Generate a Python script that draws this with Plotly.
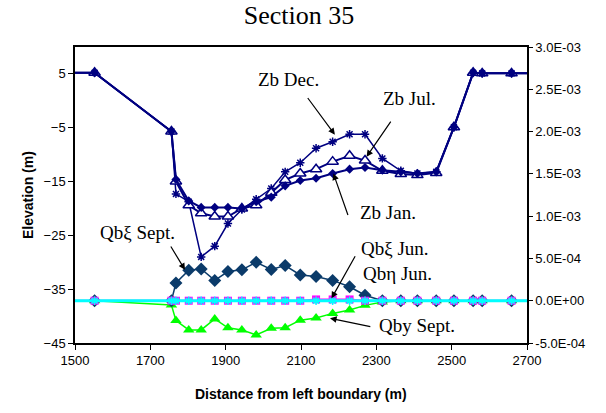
import plotly.graph_objects as go

# ---------------- data ----------------
# node positions (m); first/last entries are off-chart continuations of the lines
distance = [1400, 1552, 1756, 1768, 1802, 1835, 1871, 1906, 1943, 1981, 2021, 2058, 2098,
            2140, 2184, 2229, 2270, 2316, 2365, 2409, 2459, 2506, 2557, 2581, 2659, 2800]

zb_jan = [5.2, 5.2, -5.7, -14.6, -18.6, -19.8, -19.8, -19.8, -20.0, -18.75, -17.9, -15.8, -14.8,
          -14.4, -13.5, -12.7, -12.4, -12.9, -13.2, -13.5, -13.2, -4.9, 5.2, 5.1, 5.1, 5.1]
zb_jul = [5.2, 5.2, -5.7, -15.0, -19.4, -20.9, -21.5, -21.5, -20.0, -19.4, -17.1, -14.7, -13.5,
          -12.7, -11.3, -10.2, -11.1, -13.0, -13.6, -13.8, -13.4, -4.9, 5.2, 5.1, 5.1, 5.1]
zb_dec = [5.2, 5.2, -5.7, -17.3, -18.75, -29.0, -27.0, -22.8, -20.2, -18.3, -16.3, -13.2, -11.5,
          -8.8, -7.6, -6.2, -6.2, -10.7, -13.0, -13.5, -13.2, -4.9, 5.2, 5.1, 5.1, 5.1]

qbxi_sept = [0, 0, 0, 2.1e-4, 3.6e-4, 3.75e-4, 2.4e-4, 3.45e-4, 3.65e-4, 4.55e-4, 3.7e-4, 4.15e-4, 3.05e-4,
             2.85e-4, 2.4e-4, 1.65e-4, 6.5e-5, 0, 0, 0, 0, 0, 0, 0, 0, 0]
qby_sept = [0, 0, -5.0e-5, -2.35e-4, -3.45e-4, -3.45e-4, -2.15e-4, -3.2e-4, -3.45e-4, -4.05e-4, -3.25e-4,
            -3.2e-4, -2.3e-4, -2.05e-4, -1.5e-4, -1.1e-4, -5.5e-5, -1.5e-5, 0, 0, 0, 0, 0, 0, 0, 0]
qbxi_jun = [0, 0, 0, 0, 0, 0, 0, 0, 0, 0, 0, 0, 0,
            1.5e-5, 1.5e-5, 1.5e-5, 0, 0, 0, 0, 0, 0, 0, 0, 0, 0]
qbeta_jun = [0] * len(distance)

x_ticks = [1500, 1700, 1900, 2100, 2300, 2500, 2700]
y_ticks = [-45, -35, -25, -15, -5, 5]
y2_ticks = [-5e-4, 0, 5e-4, 1e-3, 1.5e-3, 2e-3, 2.5e-3, 3e-3]
y2_labels = ["-5.0E-04", "0.0E+00", "5.0E-04", "1.0E-03", "1.5E-03", "2.0E-03", "2.5E-03", "3.0E-03"]

NAVY = "#000080"
SERIF = "Times New Roman, Liberation Serif, serif"
SANS = "Arial, Liberation Sans, sans-serif"

fig = go.Figure()

# ---- elevation series (left axis) ----
fig.add_trace(go.Scatter(x=distance, y=zb_dec, mode="lines+markers", name="Zb Dec.",
                         line=dict(color=NAVY, width=1.5),
                         marker=dict(symbol="asterisk-open", size=7, color=NAVY,
                                     line=dict(color=NAVY, width=1.5))))
fig.add_trace(go.Scatter(x=distance, y=zb_jul, mode="lines+markers", name="Zb Jul.",
                         line=dict(color=NAVY, width=2),
                         marker=dict(symbol="triangle-up", size=10, color="white",
                                     line=dict(color=NAVY, width=1.5))))
fig.add_trace(go.Scatter(x=distance, y=zb_jan, mode="lines+markers", name="Zb Jan.",
                         line=dict(color=NAVY, width=2),
                         marker=dict(symbol="diamond", size=7, color=NAVY)))

# ---- transport series (right axis) ----
fig.add_trace(go.Scatter(x=distance, y=qby_sept, mode="lines+markers", name="Qby Sept.", yaxis="y2",
                         line=dict(color="#00FF00", width=1.5),
                         marker=dict(symbol="triangle-up", size=10, color="#00FF00")))
fig.add_trace(go.Scatter(x=distance, y=qbxi_sept, mode="lines+markers", name="Qbξ Sept.", yaxis="y2",
                         line=dict(color="#0B3B6A", width=1.5),
                         marker=dict(symbol="diamond", size=10, color="#0B3B6A")))
fig.add_trace(go.Scatter(x=distance, y=qbxi_jun, mode="lines+markers", name="Qbξ Jun.", yaxis="y2",
                         line=dict(color="#FF00FF", width=2),
                         marker=dict(symbol="square", size=8, color="#FF00FF")))
fig.add_trace(go.Scatter(x=distance, y=qbeta_jun, mode="lines+markers", name="Qbη Jun.", yaxis="y2",
                         line=dict(color="#00FFFF", width=3),
                         marker=dict(symbol="asterisk-open", size=7, color="#00FFFF",
                                     line=dict(color="#00FFFF", width=1.5))))

# ---- labels with arrows ----
labels = [
    ("Zb Dec.", 2068, 3.9, 2115, 0.8, 2190, -6.3),
    ("Zb Jul.", 2389, 0.5, 2341, -3.6, 2274, -10.4),
    ("Zb Jan.", 2331, -20.8, 2226, -21.5, 2186, -13.5),
    ("Qbξ Sept.", 1665, -24.4, 1752, -26.8, 1792, -31.4),
    ("Qbξ Jun.", 2350, -27.4, 2246, -28.6, 2181, -36.7),
    ("Qby Sept.", 2408, -41.7, 2288, -42.0, 2177, -40.4),
]
annotations = []
for text, tx, ty, ax0, ay0, hx, hy in labels:
    annotations.append(dict(x=tx, y=ty, xref="x", yref="y", text=text, showarrow=False,
                            font=dict(family=SERIF, size=19, color="black")))
    annotations.append(dict(x=hx, y=hy, xref="x", yref="y", ax=ax0, ay=ay0, axref="x", ayref="y",
                            text="", showarrow=True, arrowhead=2, arrowsize=1.1, arrowwidth=1.2,
                            arrowcolor="black"))
annotations.append(dict(x=2355, y=-32.0, xref="x", yref="y", text="Qbη Jun.", showarrow=False,
                        font=dict(family=SERIF, size=19, color="black")))

# axis titles
annotations.append(dict(x=-0.126, y=0.5, xref="paper", yref="paper", text="<b>Elevation (m)</b>",
                        textangle=-90, showarrow=False, font=dict(family=SANS, size=14, color="black")))
annotations.append(dict(x=0.499, y=-0.206, xref="paper", yref="paper",
                        text="<b>Distance from left boundary (m)</b>",
                        showarrow=False, font=dict(family=SANS, size=14, color="black")))

fig.update_layout(
    width=606, height=413,
    margin=dict(l=75, r=79, t=47, b=70),
    paper_bgcolor="white", plot_bgcolor="white",
    showlegend=False,
    title=dict(text="Section 35", x=299 / 606, xanchor="center", y=1 - 15 / 413, yanchor="middle",
               font=dict(family=SERIF, size=26, color="black")),
    xaxis=dict(range=[1500, 2700], tickvals=x_ticks, showgrid=False, zeroline=False,
               showline=True, linecolor="black", linewidth=1.5, mirror=True,
               ticks="outside", ticklen=5, tickcolor="black",
               tickfont=dict(family=SANS, size=13, color="black")),
    yaxis=dict(range=[-45, 10], tickvals=y_ticks, showgrid=False, zeroline=False,
               showline=True, linecolor="black", linewidth=1.5,
               ticks="outside", ticklen=5, tickcolor="black",
               tickfont=dict(family=SANS, size=13, color="black")),
    yaxis2=dict(range=[-5e-4, 3e-3], tickvals=y2_ticks, ticktext=y2_labels, overlaying="y", side="right",
                showgrid=False, zeroline=False, showline=True, linecolor="black", linewidth=1.5,
                ticks="outside", ticklen=4, tickcolor="black",
                tickfont=dict(family=SANS, size=13, color="black")),
    annotations=annotations,
)

fig.write_html("out.html")
